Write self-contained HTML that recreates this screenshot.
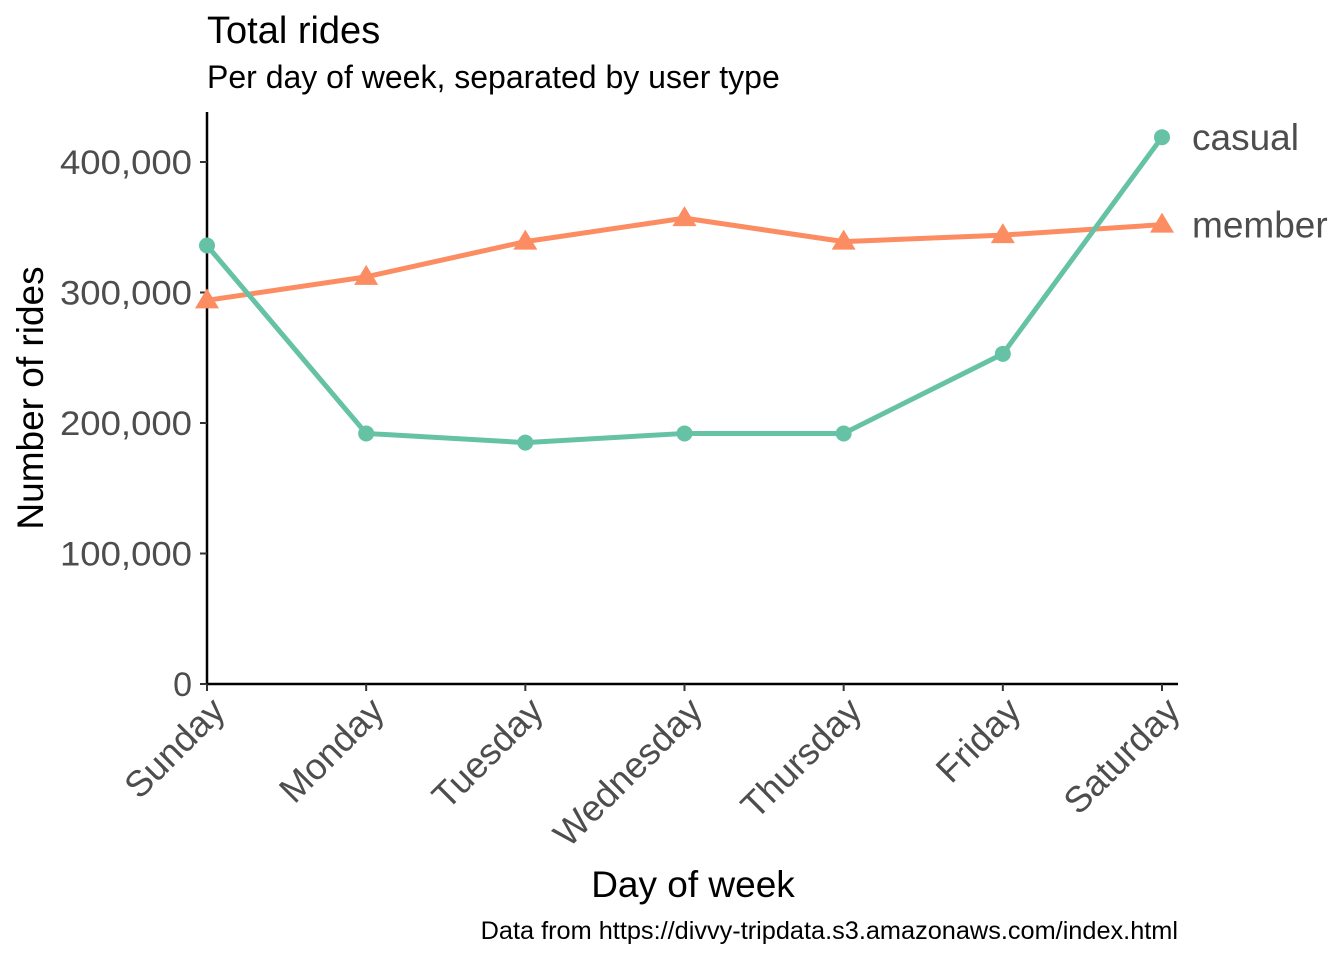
<!DOCTYPE html>
<html><head><meta charset="utf-8"><style>
body{margin:0;background:#fff;}
svg{display:block;font-family:"Liberation Sans",Arial,sans-serif;}
</style></head><body>
<svg id="chart" width="1344" height="960" viewBox="0 0 1344 960">
<text x="207" y="43" font-size="38" fill="#000">Total rides</text>
<text x="207" y="88" font-size="32" fill="#000">Per day of week, separated by user type</text>
<text transform="translate(43,398) rotate(-90)" text-anchor="middle" font-size="37" fill="#000">Number of rides</text>
<text x="693" y="897" text-anchor="middle" font-size="37" fill="#000">Day of week</text>
<text x="1178" y="939" text-anchor="end" font-size="25.3" fill="#000">Data from https://divvy-tripdata.s3.amazonaws.com/index.html</text>
<g id="axes"></g>
<g id="series"></g>
</svg>
<script>
const categories=["Sunday","Monday","Tuesday","Wednesday","Thursday","Friday","Saturday"];
const casual=[336000,192000,185000,192000,192000,253000,419000];
const member=[294000,312000,339000,357000,339000,344000,352000];
const yTicks=[0,100000,200000,300000,400000];
const yTickLabels=["0","100,000","200,000","300,000","400,000"];
const seriesNames=["casual","member"];
const NS="http://www.w3.org/2000/svg";
const x0=207,x1=1162,yBase=684,pxPer=130.5/100000;
const xs=i=>x0+(x1-x0)*i/(categories.length-1);
const ys=v=>yBase-v*pxPer;
function mk(tag,attrs,parent){const e=document.createElementNS(NS,tag);for(const k in attrs)e.setAttribute(k,attrs[k]);parent.appendChild(e);return e;}
const axes=document.getElementById('axes'),ser=document.getElementById('series');
let l=mk('line',{x1:207,y1:112,x2:207,y2:685,stroke:'#000','stroke-width':2.5},axes);


l=mk('line',{x1:206,y1:684,x2:1178,y2:684,stroke:'#000','stroke-width':2.5},axes);


yTicks.forEach((v,i)=>{
 const t=mk('line',{x1:200,x2:207,y1:ys(v),y2:ys(v),stroke:'#333','stroke-width':2},axes);
 
 
 const lab=yTickLabels[i];
 const attrs={x:192,y:ys(v)+12,'text-anchor':'end','font-size':34,fill:'#4d4d4d'};
 if(lab.length>1){attrs.textLength=132;attrs.lengthAdjust='spacingAndGlyphs';}
 const tx=mk('text',attrs,axes);
 tx.textContent=lab;
 
 
});
categories.forEach((c,i)=>{
 const x=xs(i);
 const t=mk('line',{x1:x,x2:x,y1:684,y2:691,stroke:'#333','stroke-width':2},axes);
 
 
 const tx=mk('text',{transform:`translate(${x+20},${713}) rotate(-45)`,'text-anchor':'end','font-size':36.5,fill:'#4d4d4d'},axes);
 tx.textContent=c;
 
 
});
function drawSeries(vals,color,shape,name){
 const p=mk('polyline',{points:vals.map((v,i)=>xs(i)+','+ys(v)).join(' '),fill:'none',stroke:color,'stroke-width':5,'stroke-linejoin':'round'},ser);
 
 
 vals.forEach((v,i)=>{
  const x=xs(i),y=ys(v);let m;
  if(shape==='circle')m=mk('circle',{cx:x,cy:y,r:8,fill:color},ser);
  else m=mk('polygon',{points:`${x},${y-12} ${x-12},${y+8} ${x+12},${y+8}`,fill:color},ser);
  
  
 });
 const lab=mk('text',{x:1192,y:ys(vals[vals.length-1])+13,'font-size':37,fill:'#4d4d4d'},ser);
 lab.textContent=name;
 
 
}
drawSeries(member,'#fc8d62','tri',seriesNames[1]);
drawSeries(casual,'#66c2a5','circle',seriesNames[0]);
</script>
</body></html>
